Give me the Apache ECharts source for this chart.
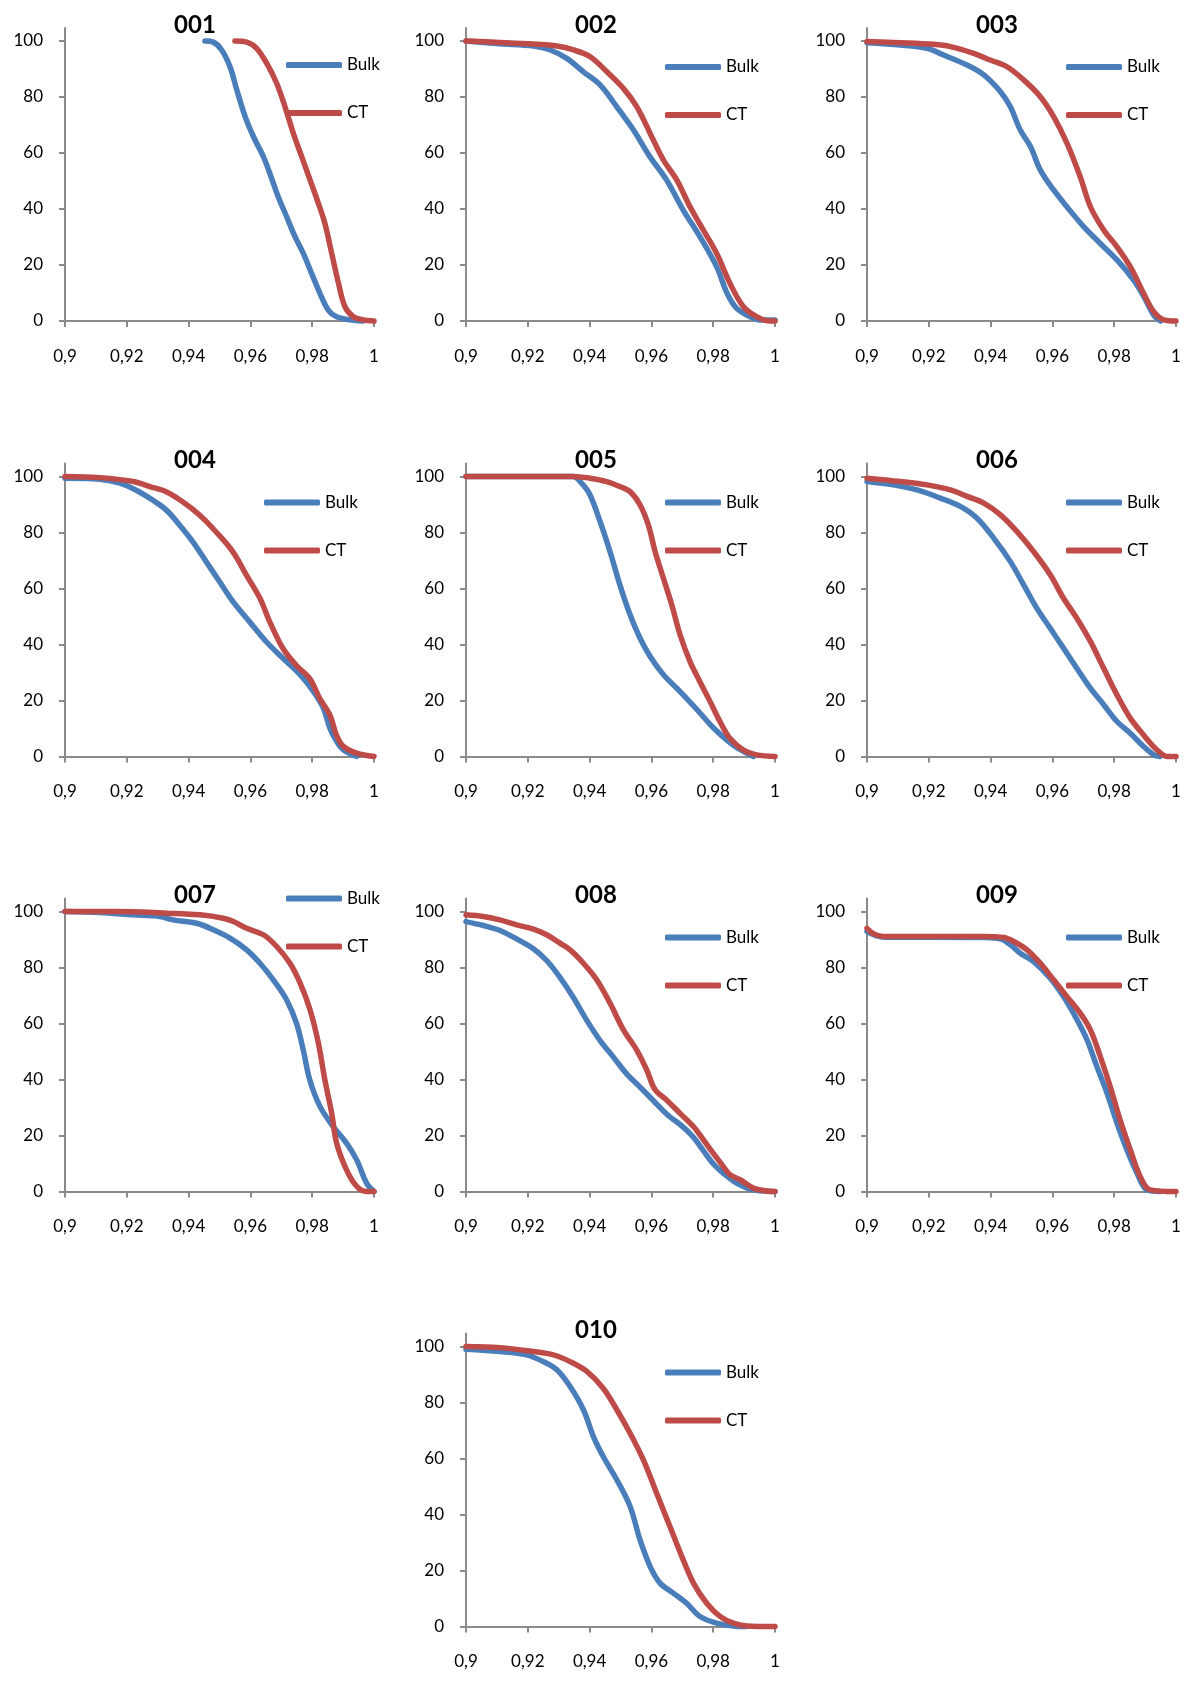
<!DOCTYPE html>
<html>
<head>
<meta charset="utf-8">
<script src="https://cdn.jsdelivr.net/npm/echarts@6/dist/echarts.min.js"></script>
<style>
  html, body { margin: 0; padding: 0; background: #fff; }
  #chart { width: 1200px; height: 1684px; }
</style>
</head>
<body>
<div id="chart"></div>
<script>
const xTicks = [0.9, 0.92, 0.94, 0.96, 0.98, 1];
const yTicks = [0, 20, 40, 60, 80, 100];
const seriesNames = ["Bulk", "CT"];

// curves: [x, percent]
const bulk001 = [[0.9453,100],[0.948,99.6],[0.9507,96.8],[0.9534,90.8],[0.9556,82.5],[0.9583,73],[0.961,65.8],[0.9642,58.7],[0.9663,52.7],[0.969,44.4],[0.9717,37.3],[0.9744,30.2],[0.9771,24.2],[0.9798,17],[0.9825,9.9],[0.9852,3.9],[0.9879,1.5],[0.9922,0.4],[0.9965,0]];
const ct001 = [[0.955,100],[0.9588,99.6],[0.962,97.4],[0.9653,92],[0.9685,84.9],[0.9712,76.5],[0.9739,67],[0.9766,58.7],[0.9793,50.4],[0.982,42],[0.9841,34.9],[0.9863,24.2],[0.9885,13.5],[0.9906,5.1],[0.9933,1.5],[0.9965,0.4],[1,0]];

const bulk002 = [[0.9,100],[0.911,99],[0.9218,98.2],[0.9273,96.8],[0.9326,93.8],[0.938,89],[0.9434,84.3],[0.9488,76.5],[0.9542,68.2],[0.9595,58.7],[0.9649,50.4],[0.9703,39.6],[0.9757,30.1],[0.9811,19.4],[0.9845,9.9],[0.9876,4.5],[0.992,1.5],[0.995,0.4],[1,0.4]];
const ct002 = [[0.9,100],[0.911,99.5],[0.9218,98.9],[0.9294,98.2],[0.9348,96.8],[0.9402,94.4],[0.9456,89],[0.951,83],[0.9553,76.5],[0.9596,67],[0.9639,57.5],[0.9682,50.4],[0.9725,40.8],[0.9768,32.5],[0.9811,24.2],[0.9854,13.5],[0.9898,5.1],[0.9942,1.5],[0.9984,0],[1,0]];

const bulk003 = [[0.9,99.4],[0.9108,98.6],[0.9194,97.4],[0.9248,95],[0.9324,91.4],[0.9378,87.9],[0.9432,81.9],[0.9464,76.5],[0.9496,68.2],[0.9529,62.3],[0.9561,53.9],[0.9604,46.8],[0.9647,40.8],[0.9701,33.7],[0.9755,27.7],[0.9809,21.8],[0.9863,14.6],[0.9896,8.7],[0.9928,2.1],[0.995,0]];
const ct003 = [[0.9,99.8],[0.9108,99.4],[0.9216,98.8],[0.927,98],[0.9345,95.6],[0.9399,93.2],[0.9453,90.8],[0.9507,86.1],[0.9561,80.1],[0.9604,73],[0.9647,63.5],[0.969,51.5],[0.9723,40.8],[0.9766,32.5],[0.9809,26.5],[0.9852,19.4],[0.9895,9.9],[0.9928,3.3],[0.9961,0.4],[1,0]];

const bulk004 = [[0.9,99.4],[0.9113,99],[0.9178,97.6],[0.9232,95],[0.9286,91.4],[0.9329,87.9],[0.9372,82.5],[0.9415,76.5],[0.9458,69.4],[0.9501,62.3],[0.9545,55.1],[0.9599,47.9],[0.9653,40.8],[0.9707,34.9],[0.9761,29.2],[0.9804,23.2],[0.9836,17.3],[0.9858,9.9],[0.9879,5.4],[0.9901,2.4],[0.9944,0]];
const ct004 = [[0.9,100],[0.9113,99.6],[0.9221,98.2],[0.9275,96.4],[0.9329,94.5],[0.9383,90.8],[0.9437,86.1],[0.949,80.1],[0.9544,73],[0.9588,64.6],[0.9631,56.5],[0.9663,48],[0.9706,38.5],[0.9749,32.5],[0.9792,27.8],[0.9825,20.6],[0.9858,14.6],[0.9879,7.5],[0.9901,3.6],[0.9944,1.2],[1,0]];

const bulk005 = [[0.9,100],[0.9347,100],[0.9374,97.6],[0.9401,93.5],[0.9434,83.9],[0.9466,73.2],[0.9498,61.3],[0.9531,50.6],[0.9563,42.3],[0.9596,35.7],[0.9639,29.2],[0.9693,23.2],[0.9748,16.7],[0.9802,10.1],[0.9856,4.8],[0.9898,1.8],[0.993,0]];
const ct005 = [[0.9,100],[0.9347,100],[0.9401,99.4],[0.9455,98.2],[0.9498,96.4],[0.9531,94.6],[0.9563,89.9],[0.959,82.7],[0.9612,73.2],[0.9639,63.6],[0.9666,54.1],[0.9693,43.4],[0.9725,33.9],[0.9757,26.7],[0.979,19.6],[0.9822,12.5],[0.9854,6.5],[0.9898,2.3],[0.9941,0.6],[1,0]];

const bulk006 = [[0.9,98.2],[0.9086,97],[0.9162,95.2],[0.9237,92.3],[0.9302,89.3],[0.9356,85.1],[0.941,78],[0.9464,69.6],[0.9507,61.3],[0.955,52.9],[0.9593,45.8],[0.9636,38.7],[0.9679,31.5],[0.9723,24.4],[0.9766,18.5],[0.9809,12.5],[0.9852,8.3],[0.9895,3.6],[0.9928,0.6],[0.9949,0]];
const ct006 = [[0.9,99.4],[0.9108,98.2],[0.9194,97],[0.927,95.2],[0.9324,92.9],[0.9378,90.5],[0.9432,86.3],[0.9485,80.4],[0.9539,73.2],[0.9593,64.9],[0.9636,56.5],[0.9679,49.4],[0.9723,41.1],[0.9766,31.5],[0.9809,22],[0.9852,13.7],[0.9895,7.7],[0.9938,2.4],[0.9971,0],[1,0]];

const bulk007 = [[0.9,100],[0.9113,99.6],[0.9221,98.8],[0.9307,98.2],[0.935,97],[0.9426,95.8],[0.948,93.5],[0.9534,90.5],[0.9588,86.3],[0.9631,81.5],[0.9674,75.6],[0.9717,68.5],[0.9749,60.1],[0.9771,50.6],[0.9792,39.9],[0.9825,30.4],[0.9868,23.2],[0.9911,17.3],[0.9944,11.3],[0.9976,3],[1,0]];
const ct007 = [[0.9,100],[0.9167,100],[0.9329,99.4],[0.9437,98.8],[0.9512,97.6],[0.9545,96.4],[0.9588,94],[0.9642,91.7],[0.9685,87.5],[0.9728,81.5],[0.9761,74.4],[0.9793,64.9],[0.982,53],[0.9841,39.9],[0.9863,28],[0.9879,17.3],[0.9911,7.7],[0.9944,1.8],[0.9976,0],[1,0]];

const bulk008 = [[0.9,96.4],[0.9056,95],[0.911,93.2],[0.9164,90.2],[0.9218,86.7],[0.9261,82.5],[0.9304,76.5],[0.9347,69.4],[0.9391,61.1],[0.9434,53.9],[0.9477,48],[0.952,42],[0.9563,37.3],[0.9606,32.5],[0.9649,27.7],[0.9703,23],[0.9736,19.4],[0.9768,14.6],[0.98,9.9],[0.9833,6.5],[0.9876,3],[0.993,0.6],[1,0]];
const ct008 = [[0.9,98.8],[0.9056,98.2],[0.911,97],[0.9164,95.2],[0.9218,93.7],[0.9261,91.7],[0.9304,88.7],[0.9337,86.3],[0.938,81.5],[0.9423,75.6],[0.9466,67.3],[0.9509,57.8],[0.9552,50.6],[0.9585,43.4],[0.9612,36.3],[0.9649,32.7],[0.9692,28],[0.9736,23.2],[0.9768,18.5],[0.98,13.7],[0.9833,8.9],[0.9854,6],[0.9887,4.2],[0.993,1.2],[0.9973,0.2],[1,0]];

const bulk009 = [[0.9,92.9],[0.9032,91.3],[0.9065,90.8],[0.9216,90.8],[0.9378,90.7],[0.9432,90.2],[0.9464,88.1],[0.9496,85.1],[0.9539,82.1],[0.9593,76.2],[0.9636,69.6],[0.968,61.3],[0.9712,54.2],[0.9744,44.6],[0.9777,35.1],[0.9809,24.4],[0.9841,14.9],[0.9874,6.5],[0.9906,0.6],[0.9949,0]];
const ct009 = [[0.9,94],[0.9022,92],[0.9054,91.1],[0.9216,91.1],[0.9378,91.1],[0.9443,90.7],[0.9475,89.3],[0.9518,86.3],[0.9561,81.5],[0.9604,75.6],[0.9647,69.6],[0.969,63.7],[0.9723,57.7],[0.9755,48.2],[0.9787,37.5],[0.9819,25.6],[0.9852,14.9],[0.9884,5.4],[0.9917,0.6],[1,0]];

const bulk010 = [[0.9,99],[0.911,98.2],[0.9196,97],[0.925,94.6],[0.9294,91.7],[0.9337,85.7],[0.938,77.4],[0.9412,67.9],[0.9444,60.7],[0.9488,52.4],[0.9531,42.9],[0.9563,31],[0.9596,21.4],[0.9628,15.5],[0.9671,11.9],[0.9714,8.3],[0.9757,3.6],[0.9811,1.2],[0.9865,0.2],[0.9908,0]];
const ct010 = [[0.9,100],[0.911,99.6],[0.9218,98.2],[0.9283,97],[0.9337,94.6],[0.9391,91.1],[0.9444,85.1],[0.9488,77.4],[0.9531,69],[0.9574,59.5],[0.9617,47.6],[0.966,35.7],[0.9703,23.8],[0.9736,15.5],[0.9779,8.3],[0.9822,3.6],[0.9865,1.2],[0.9908,0.2],[1,0]];

const panels = [
	{ name: "001", bulk: bulk001, ct: ct001 },
	{ name: "002", bulk: bulk002, ct: ct002 },
	{ name: "003", bulk: bulk003, ct: ct003 },
	{ name: "004", bulk: bulk004, ct: ct004 },
	{ name: "005", bulk: bulk005, ct: ct005 },
	{ name: "006", bulk: bulk006, ct: ct006 },
	{ name: "007", bulk: bulk007, ct: ct007 },
	{ name: "008", bulk: bulk008, ct: ct008 },
	{ name: "009", bulk: bulk009, ct: ct009 },
	{ name: "010", bulk: bulk010, ct: ct010 }
];

// layout (px)
const colLeft = [65, 466, 867];
const rowY100 = [41, 476.5, 911.5, 1346.5];
const slots = [[0, 0], [0, 1], [0, 2], [1, 0], [1, 1], [1, 2], [2, 0], [2, 1], [2, 2], [3, 1]];
const plotW = 309;
const plotH = 280; // 0..100
const overTop = 13; // axis line sticks out above 100
const legendPos = { "001": [221, 24], "007": [221, -13] };

const blue = "#4A7EBB";
const red = "#BE4B48";
const axisGrey = "#8a8a8a";
const font = "Lato";

let grid = [], xAxis = [], yAxis = [], series = [], title = [], legend = [];

panels.forEach((p, i) => {
	let row = slots[i][0], col = slots[i][1];
	let left = colLeft[col];
	let y100 = rowY100[row];
	grid.push({ left: left, top: y100 - overTop, width: plotW, height: plotH + overTop });
	xAxis.push({
		type: "value",
		gridIndex: i,
		min: 0.9,
		max: 1,
		interval: 0.02,
		splitLine: { show: false },
		axisLine: { show: true, onZero: false, lineStyle: { color: axisGrey, width: 2 } },
		axisTick: { show: true, length: 6, customValues: xTicks, lineStyle: { color: axisGrey, width: 2 } },
		axisLabel: {
			customValues: xTicks,
			margin: 27,
			color: "#000",
			fontSize: 17,
			fontFamily: font,
			formatter: v => String(Math.round(v * 100) / 100).replace(".", ",")
		}
	});
	yAxis.push({
		type: "value",
		gridIndex: i,
		min: 0,
		max: 100 + overTop * 100 / plotH,
		splitLine: { show: false },
		axisLine: { show: true, lineStyle: { color: axisGrey, width: 2 } },
		axisTick: { show: true, length: 6, customValues: yTicks, lineStyle: { color: axisGrey, width: 2 } },
		axisLabel: { customValues: yTicks, margin: 22, color: "#000", fontSize: 17, fontFamily: font }
	});
	title.push({
		text: p.name,
		left: left + 130,
		top: y100 - 16,
		padding: 0,
		textAlign: "center",
		textVerticalAlign: "middle",
		textStyle: { fontSize: 24, fontWeight: "bold", fontFamily: font, color: "#000" }
	});
	let lp = legendPos[p.name] || [199, 26];
	legend.push({
		data: seriesNames,
		orient: "vertical",
		left: left + lp[0],
		top: y100 + lp[1] - 9,
		padding: 0,
		icon: "roundRect",
		itemWidth: 56,
		itemHeight: 6,
		itemGap: 30,
		selectedMode: false,
		textStyle: { fontSize: 17, fontFamily: font, color: "#000", lineHeight: 18 }
	});
	[[p.bulk, blue, "Bulk"], [p.ct, red, "CT"]].forEach(s => {
		series.push({
			type: "line",
			name: s[2],
			xAxisIndex: i,
			yAxisIndex: i,
			data: s[0],
			showSymbol: false,
			symbol: "none",
			smooth: 0.35,
			clip: false,
			itemStyle: { color: s[1] },
			lineStyle: { color: s[1], width: 5.5, cap: "round", join: "round" }
		});
	});
});

let myChart = echarts.init(document.getElementById("chart"));
myChart.setOption({
	animation: false,
	backgroundColor: "#fff",
	title: title,
	legend: legend,
	grid: grid,
	xAxis: xAxis,
	yAxis: yAxis,
	series: series
});
</script>
</body>
</html>
